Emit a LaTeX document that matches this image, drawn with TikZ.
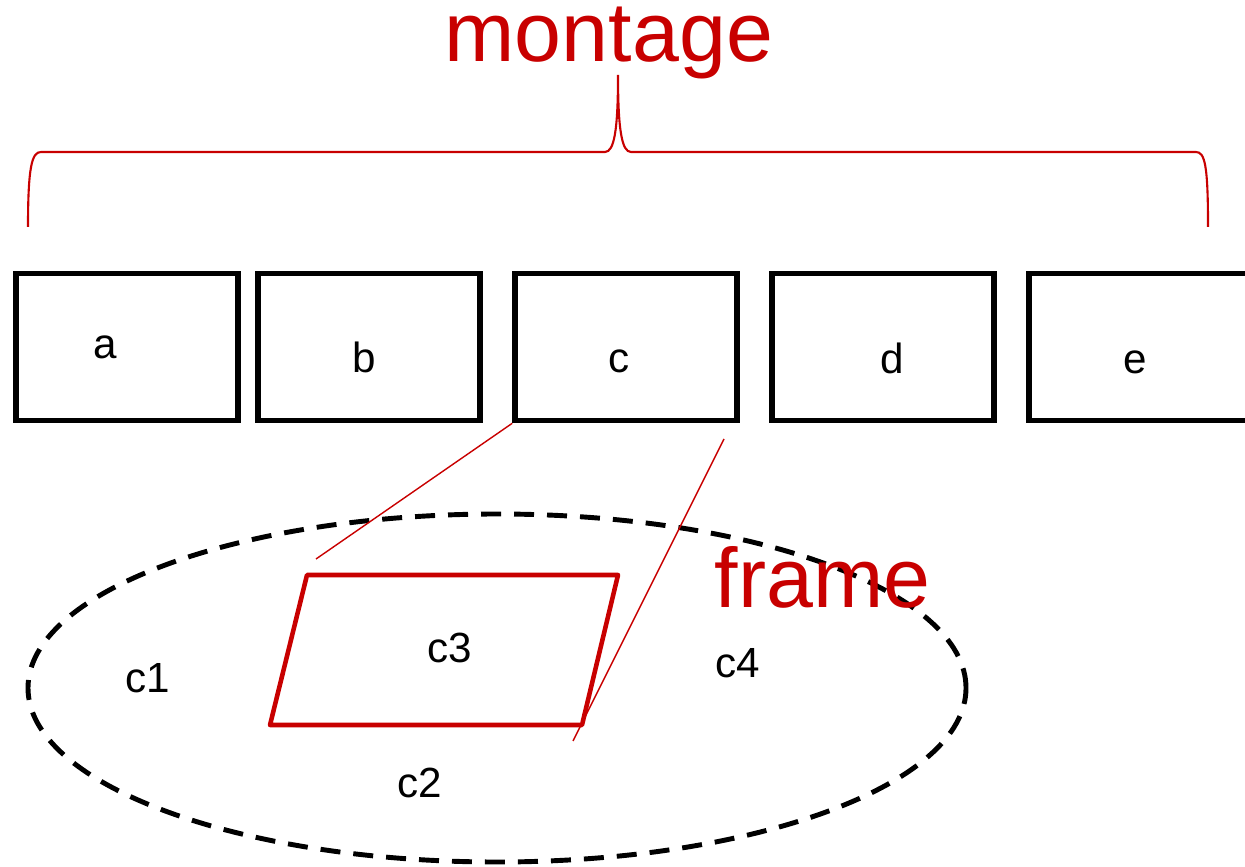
\documentclass[tikz,border=0pt]{standalone}
\usepackage{fontspec}
\setmainfont{Liberation Sans}
\usepackage{xcolor}
\usepackage{tikz}
\usetikzlibrary{shapes.geometric,calc}
\definecolor{montred}{RGB}{200,0,0}

\begin{document}
\begin{tikzpicture}[
    framebox/.style={draw, line width=1.6pt, minimum width=2.22cm, minimum height=1.47cm},
    lbl/.style={anchor=base west, inner sep=0pt, font=\fontsize{12}{14}\selectfont},
    bigred/.style={anchor=base west, inner sep=0pt, text=montred, font=\fontsize{24}{28}\selectfont}
  ]
    \useasboundingbox (0,0) rectangle (12.45,8.66);
    % Boxes
    \node[framebox] (boxa) at (1.27,5.19) {};
    \node[framebox] (boxb) at (3.69,5.19) {};
    \node[framebox] (boxc) at (6.26,5.19) {};
    \node[framebox] (boxd) at (8.83,5.19) {};
    \node[framebox] (boxe) at (11.40,5.19) {};
    %
    \node[lbl] (laba) at (0.93,5.07) {a};
    \node[lbl] (labb) at (3.52,4.93) {b};
    \node[lbl] (labc) at (6.08,4.93) {c};
    \node[lbl] (labd) at (8.80,4.92) {d};
    \node[lbl] (labe) at (11.23,4.92) {e};
    % Brace
    \draw[line width=0.6pt, montred] (0.28,6.39) .. controls (0.28,7.0) and (0.32,7.14) .. (0.41,7.14)
        -- (6.05,7.14) .. controls (6.14,7.14) and (6.18,7.35) .. (6.18,7.91)
        .. controls (6.18,7.35) and (6.22,7.14) .. (6.31,7.14)
        -- (11.96,7.14) .. controls (12.05,7.14) and (12.08,7.0) .. (12.08,6.39);
    \node[bigred] (montage) at (4.44,8.04) {montage};
    % Frame
    \draw[line width=1.4pt, dash pattern=on 0.2cm off 0.13cm] (4.97,1.78) ellipse [x radius=4.69, y radius=1.74];
    \draw[line width=1.3pt, montred, line join=round] (3.07,2.91) -- (6.18,2.91) -- (5.82,1.41) -- (2.70,1.41) -- cycle;
    \coordinate (zoomtop) at (3.16,3.07);
    \coordinate (zoomstart) at (7.24,4.27);
    \coordinate (zoomend) at (5.73,1.25);
    \draw[line width=0.4pt, montred] (boxc.south west) -- (zoomtop);
    \draw[line width=0.4pt, montred] (zoomstart) -- (zoomend);
    \node[bigred] (frame) at (7.14,2.59) {frame};
    %
    \node[lbl] (cone) at (1.25,1.74) {c1};
    \node[lbl] (ctwo) at (3.97,0.69) {c2};
    \node[lbl] (cthree) at (4.27,2.04) {c3};
    \node[lbl] (cfour) at (7.15,1.89) {c4};
\end{tikzpicture}
\end{document}
